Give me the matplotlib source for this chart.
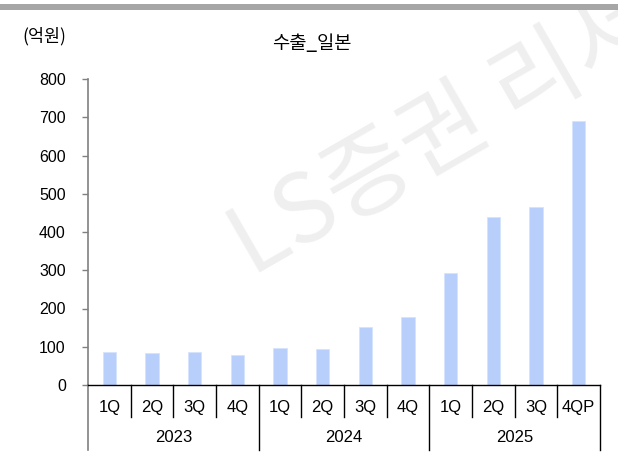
import matplotlib
matplotlib.use("Agg")
from matplotlib import pyplot as plt
from matplotlib.patches import Rectangle

# 데이터 (억원)
quarters = ["1Q", "2Q", "3Q", "4Q", "1Q", "2Q", "3Q", "4Q", "1Q", "2Q", "3Q", "4QP"]
years = ["2023", "2024", "2025"]
export_japan = [85, 83, 86, 79, 98, 95, 152, 177, 292, 439, 466, 689]
yticks = [0, 100, 200, 300, 400, 500, 600, 700, 800]

num_font = ["Liberation Sans Narrow", "Liberation Sans", "DejaVu Sans"]
kr_font = ["Noto Sans CJK KR", "DejaVu Sans"]
plt.rcParams["font.family"] = num_font

fig = plt.figure(figsize=(6.18, 4.54), dpi=100)
fig.patch.set_facecolor("white")

# 워터마크
fig.text(0.407, 0.39, "LS증권 리서치", family=kr_font, fontsize=68, fontweight="light",
         color="#efefef", rotation=30, rotation_mode="anchor",
         ha="left", va="baseline", zorder=-1)

# 상단 회색 선
fig.add_artist(Rectangle((0, 1 - 10 / 454), 1, 6 / 454, transform=fig.transFigure,
                         facecolor="#a6a6a6", edgecolor="none"))

ax = fig.add_axes([88 / 618, 1 - 385 / 454, 512 / 618, 306 / 454])
ax.set_facecolor("none")

x = list(range(len(export_japan)))
ax.bar(x, export_japan, width=0.32, color="#b9cffb", edgecolor="#d6e3fc", linewidth=0.6)

ax.set_xlim(-0.5, len(x) - 0.5)
ax.set_ylim(0, 800)
ax.set_yticks(yticks)
ax.set_yticklabels([str(v) for v in yticks], fontsize=11.5)
ax.tick_params(axis="y", direction="out", length=4, width=1, color="#808080", pad=12)
ax.set_xticks([])

for s in ["top", "right"]:
    ax.spines[s].set_visible(False)
ax.spines["left"].set_color("#808080")
ax.spines["left"].set_linewidth(1.2)
ax.spines["bottom"].set_color("black")
ax.spines["bottom"].set_linewidth(1)

tr = ax.get_xaxis_transform()
# 분기 라벨 + 구분선
for i, q in enumerate(quarters):
    ax.text(i, -0.072, q, transform=tr, ha="center", va="center", fontsize=12)
for i in range(1, len(quarters)):
    if i % 4 == 0:
        continue
    ax.plot([i - 0.5, i - 0.5], [0, -0.105], transform=tr, color="black", lw=1, clip_on=False)
# 연도 라벨 + 구분선
for k, yname in enumerate(years):
    ax.text(4 * k + 1.5, -0.173, yname, transform=tr, ha="center", va="center", fontsize=12)
for k in range(len(years) + 1):
    c = "#808080" if k == 0 else "black"
    ax.plot([4 * k - 0.5, 4 * k - 0.5], [0, -0.212], transform=tr, color=c, lw=1.2 if k == 0 else 1,
            clip_on=False)

fig.text(22 / 618, 1 - 36 / 454, "(억원)", family=kr_font, fontsize=12.5, ha="left", va="center")
fig.text(312 / 618, 1 - 44 / 454, "수출_일본", family=kr_font, fontsize=13.5, ha="center", va="center")

fig.savefig("out.png", dpi=100)
